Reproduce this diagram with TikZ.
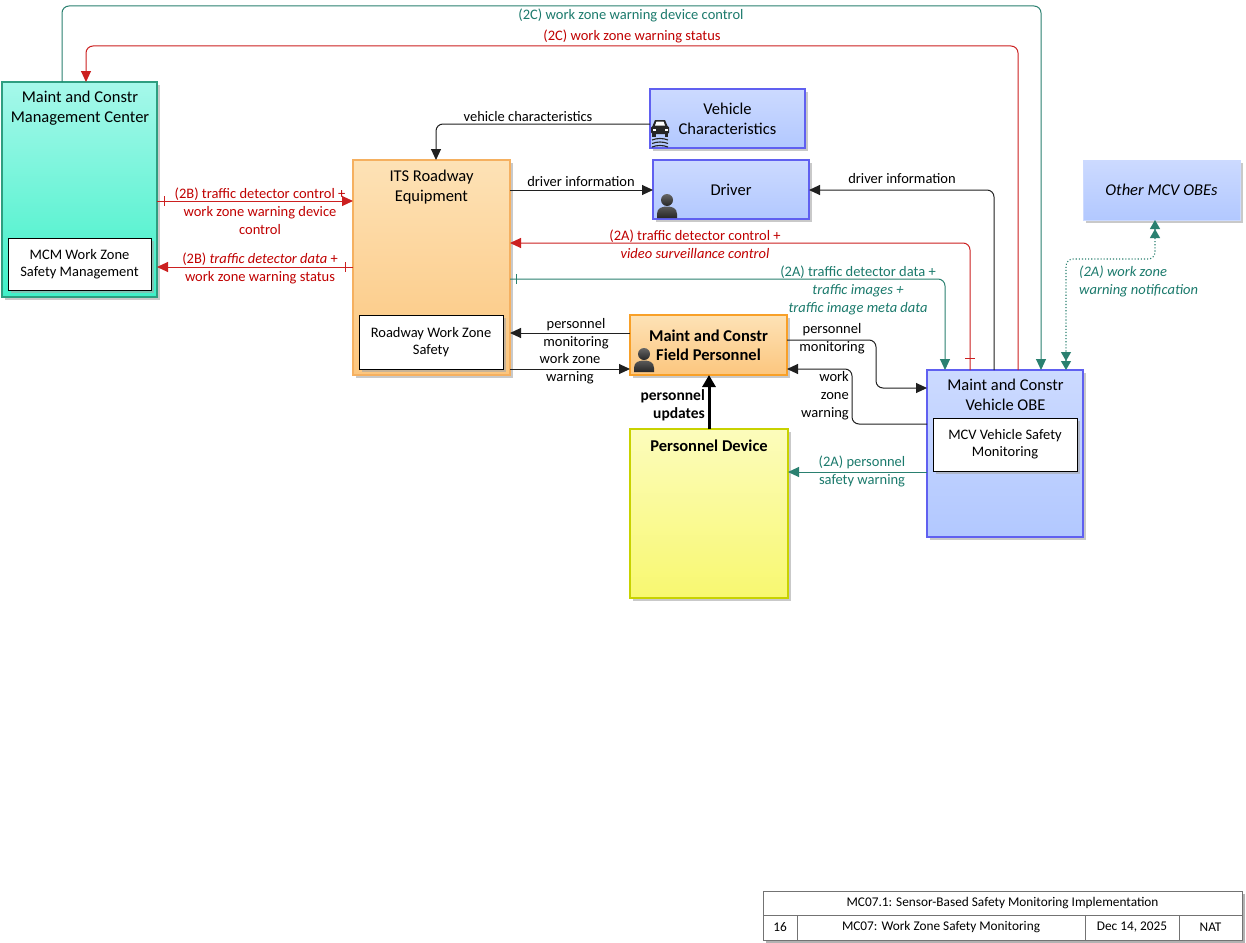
\documentclass[tikz,border=0pt]{standalone}
\usepackage{fontspec}
\setmainfont{Carlito}
\usetikzlibrary{arrows.meta,shadows,calc}
\definecolor{myred}{HTML}{C00000}
\definecolor{redln}{HTML}{CC2020}
\definecolor{myteal}{HTML}{1B7A6C}
\definecolor{tealln}{HTML}{2A8070}
\definecolor{blkln}{HTML}{202020}
\definecolor{mcmtop}{HTML}{A6F8EA}
\definecolor{mcmbot}{HTML}{40F0C8}
\definecolor{mcmdraw}{HTML}{2E9E80}
\definecolor{ortop}{HTML}{FDE2B6}
\definecolor{orbot}{HTML}{FCC67E}
\definecolor{ordraw}{HTML}{F5B060}
\definecolor{fpdraw}{HTML}{F8A028}
\definecolor{yetop}{HTML}{FCFCBC}
\definecolor{yebot}{HTML}{F8F870}
\definecolor{yedraw}{HTML}{C8D200}
\definecolor{bltop}{HTML}{CCDAFF}
\definecolor{blbot}{HTML}{B2C8FF}
\definecolor{bldraw}{HTML}{6060F0}
\tikzset{
  base/.style={anchor=north west, inner sep=0pt, outer sep=0pt, align=center},
  shad/.style={drop shadow={shadow xshift=3pt, shadow yshift=-3pt, fill=black!35, opacity=0.6}},
  mcmbox/.style={base, shad, draw=mcmdraw, line width=1.2pt, top color=mcmtop, bottom color=mcmbot},
  orbox/.style={base, shad, draw=ordraw, line width=1.2pt, top color=ortop, bottom color=orbot},
  fpbox/.style={base, shad, draw=fpdraw, line width=2.5pt, top color=ortop, bottom color=orbot,
     font=\bfseries\fontsize{16.5}{19}\selectfont},
  yebox/.style={base, shad, draw=yedraw, line width=2.5pt, top color=yetop, bottom color=yebot},
  blbox/.style={base, shad, draw=bldraw, line width=1.2pt, top color=bltop, bottom color=blbot,
     font=\fontsize{16.5}{20}\selectfont},
  othbox/.style={base, shad, draw=bltop, line width=0.6pt, top color=bltop, bottom color=blbot,
     font=\itshape\fontsize{16.5}{20}\selectfont},
  inbox/.style={base, shad, draw=black, line width=1pt, fill=white, font=\fontsize{14.5}{17}\selectfont},
  ttl/.style={inner sep=0pt, align=center, font=\fontsize{16.5}{20}\selectfont},
  lbl/.style={inner sep=0pt, align=center, font=\fontsize{14.5}{18}\selectfont},
  cell/.style={base, draw=black!55, line width=0.8pt, fill=white, font=\fontsize{13.3}{15}\selectfont},
  rc/.style={rounded corners=7pt},
  tip/.style={-{Triangle[length=11pt,width=10pt]}},
  redc/.style={draw=redln, line width=1pt, tip},
  tealc/.style={draw=tealln, line width=1pt, tip},
  blkc/.style={draw=blkln, line width=1pt, tip},
  person/.pic={
    \shade[top color=black!65, bottom color=black!85]
      (0,25) -- (0,21) .. controls (0,15) and (5,13.5) .. (10,13.5)
      .. controls (15,13.5) and (20,15) .. (20,21) -- (20,25) -- cycle;
    \shade[top color=black!60, bottom color=black!85] (10,7) circle[radius=6pt];
  },
  car/.pic={
    \fill[black!85] (4,0) -- (14,0) -- (16.5,6) -- (1.5,6) -- cycle;
    \fill[black!85, rounded corners=1.5pt] (0,6) rectangle (18,14);
    \fill[black!85] (1,13) rectangle (4.5,17);
    \fill[black!85] (13.5,13) rectangle (17,17);
    \fill[white] (5.5,1.5) -- (12.5,1.5) -- (14,5.5) -- (4,5.5) -- cycle;
    \fill[white] (1.5,8.5) rectangle (4.5,10.5);
    \fill[white] (13.5,8.5) rectangle (16.5,10.5);
    \draw[black!85, line width=1.1pt] (1,20) .. controls (6,18) and (12,18) .. (17,20);
    \draw[black!85, line width=1.1pt] (1,23.5) .. controls (6,21.5) and (12,21.5) .. (17,23.5);
    \draw[black!85, line width=1.1pt] (1,27) .. controls (6,25) and (12,25) .. (17,27);
  }
}
\begin{document}
\begin{tikzpicture}[x=1pt,y=-1pt]
\useasboundingbox[fill=white] (0,0) rectangle (1246,942);

% ---------- boxes ----------
\node[mcmbox, minimum width=155pt, minimum height=215pt] (mcm) at (2,82) {};
\node[ttl] (mcmt) at (80,108) {Maint and Constr\\Management Center};
\node[inbox, minimum width=143pt, minimum height=52pt] (mcmi) at (8,238) {MCM Work Zone\\Safety Management};

\node[orbox, minimum width=157pt, minimum height=215pt] (its) at (353,160) {};
\node[ttl] (itst) at (431.5,187) {ITS Roadway\\Equipment};
\node[inbox, minimum width=144pt, minimum height=54pt] (itsi) at (359,315) {Roadway Work Zone\\Safety};

\node[blbox, minimum width=155pt, minimum height=59pt] (vc) at (650,89) {Vehicle\\Characteristics};
\pic at (651,120) {car};

\node[blbox, minimum width=156pt, minimum height=59pt] (drv) at (653,160) {Driver};
\pic at (657,193) {person};

\node[othbox, minimum width=157pt, minimum height=60pt] (oth) at (1083,160) {Other MCV OBEs};

\node[fpbox, minimum width=157pt, minimum height=60pt] (fp) at (630,315) {Maint and Constr\\Field Personnel};
\begin{scope}[shift={(634,347)}, scale=1.05]
\pic at (0,0) {person};
\end{scope}

\node[yebox, minimum width=158pt, minimum height=169pt] (pd) at (630,429) {};
\node[inner sep=0pt, font=\bfseries\fontsize{16.5}{19}\selectfont] (pdt) at (709,446) {Personnel Device};

\node[blbox, minimum width=156pt, minimum height=167pt] (obe) at (927,370) {};
\node[ttl] (obet) at (1005.5,395) {Maint and Constr\\Vehicle OBE};
\node[inbox, minimum width=144pt, minimum height=53pt] (obei) at (933,418) {MCV Vehicle Safety\\Monitoring};

% ---------- connectors ----------
% (2C) device control
\draw[tealc, rc] (62,0 |- mcm.north) -- (62,6) -- (1041,6) -- (1041,0 |- obe.north);
\node[lbl, text=myteal] (l2ca) at (631,15) {(2C) work zone warning device control};
% (2C) status
\draw[redc, rc] (1018,0 |- obe.north) -- (1018,46) -- (86,46) -- (86,0 |- mcm.north);
\node[lbl, text=myred] (l2cb) at (632,36) {(2C) work zone warning status};
% vehicle characteristics
\draw[blkc, rc] (vc.west |- 0,124) -- (436,124) -- (436,0 |- its.north);
\node[lbl] (lvc) at (528,117) {vehicle characteristics};
% driver information (ITS)
\draw[blkc] (its.east |- 0,190) -- (drv.west |- 0,190);
\node[lbl] (ldi1) at (581,182) {driver information};
% driver information (OBE)
\draw[blkc, rc] (994,0 |- obe.north) -- (994,190) -- (drv.east |- 0,190);
\node[lbl] (ldi2) at (902,179) {driver information};
% (2A) control
\draw[redc, rc] (970,0 |- obe.north) -- (970,243) -- (its.east |- 0,243);
\draw[redln, line width=1pt] (965,358) -- (975,358);
\node[lbl, text=myred] (l2aa) at (695,244) {(2A) traffic detector control +\\\itshape video surveillance control};
% (2A) data
\draw[tealc, rc] (its.east |- 0,279) -- (945,279) -- (945,0 |- obe.north);
\draw[tealln, line width=1pt] (516,274) -- (516,284);
\node[lbl, text=myteal] (l2ab) at (858,290) {(2A) traffic detector data +\\\itshape traffic images +\\\itshape traffic image meta data};
% (2A) work zone warning notification
\draw[draw=tealln, line width=1.1pt, dotted, rc,
  {Triangle[length=9pt,width=10pt]Triangle[length=9pt,width=10pt]}-{Triangle[length=9pt,width=10pt]Triangle[length=9pt,width=10pt]}]
  (1155,0 |- oth.south) -- (1155,259) -- (1066,259) -- (1066,0 |- obe.north);
\node[lbl, text=myteal, anchor=west, align=left, font=\itshape\fontsize{14.5}{18}\selectfont] (l2ac) at (1079,281) {(2A) work zone\\warning notification};
% (2B) control
\draw[redc] (mcm.east |- 0,201) -- (its.west |- 0,201);
\draw[redln, line width=1pt] (164,196) -- (164,206);
\node[lbl, text=myred] (l2ba) at (260,211) {(2B) traffic detector control +\\work zone warning device\\control};
% (2B) data
\draw[redc] (its.west |- 0,267) -- (mcm.east |- 0,267);
\draw[redln, line width=1pt] (345,262) -- (345,272);
\node[lbl, text=myred] (l2bb) at (260,268) {(2B) \textit{traffic detector data} +\\work zone warning status};
% personnel monitoring (to ITS)
\draw[blkc] (fp.west |- 0,333) -- (its.east |- 0,333);
\node[lbl] (lpm1) at (576,334) {personnel\\monitoring};
% work zone warning (to FP)
\draw[blkc] (its.east |- 0,369) -- (fp.west |- 0,369);
\node[lbl] (lwz1) at (570,369) {work zone\\warning};
% personnel updates
\draw[draw=black, line width=3pt, -{Triangle[length=12pt,width=13pt]}] (709,0 |- pd.north) -- (709,0 |- fp.south);
\node[lbl, anchor=east, align=right, font=\bfseries\fontsize{15.5}{18}\selectfont] (lpu) at (705,405) {personnel\\updates};
% personnel monitoring (to OBE)
\draw[blkc, rc] (fp.east |- 0,340) -- (876,340) -- (876,388) -- (obe.west |- 0,388);
\node[lbl] (lpm2) at (832,339) {personnel\\monitoring};
% work zone warning (OBE to FP)
\draw[blkc, rc] (obe.west |- 0,424) -- (852,424) -- (852,369) -- (fp.east |- 0,369);
\node[lbl, anchor=east, align=right] (lwz2) at (849,396) {work\\zone\\warning};
% (2A) personnel safety warning
\draw[tealc] (obe.west |- 0,472) -- (pd.east |- 0,472);
\node[lbl, text=myteal] (lps) at (862,471) {(2A) personnel\\safety warning};

% ---------- title block ----------
\fill[black!30] (766,894) rectangle (1245,943);
\node[cell, minimum width=479pt, minimum height=24pt] (t1) at (763,891) {MC07.1: Sensor-Based Safety Monitoring Implementation};
\node[cell, minimum width=34pt, minimum height=25pt] (t2) at (763,915) {16};
\node[cell, minimum width=288pt, minimum height=25pt] (t3) at (797,915) {MC07: Work Zone Safety Monitoring};
\node[cell, minimum width=94pt, minimum height=25pt] (t4) at (1085,915) {Dec 14, 2025};
\node[cell, minimum width=63pt, minimum height=25pt] (t5) at (1179,915) {NAT};
\end{tikzpicture}
\end{document}
